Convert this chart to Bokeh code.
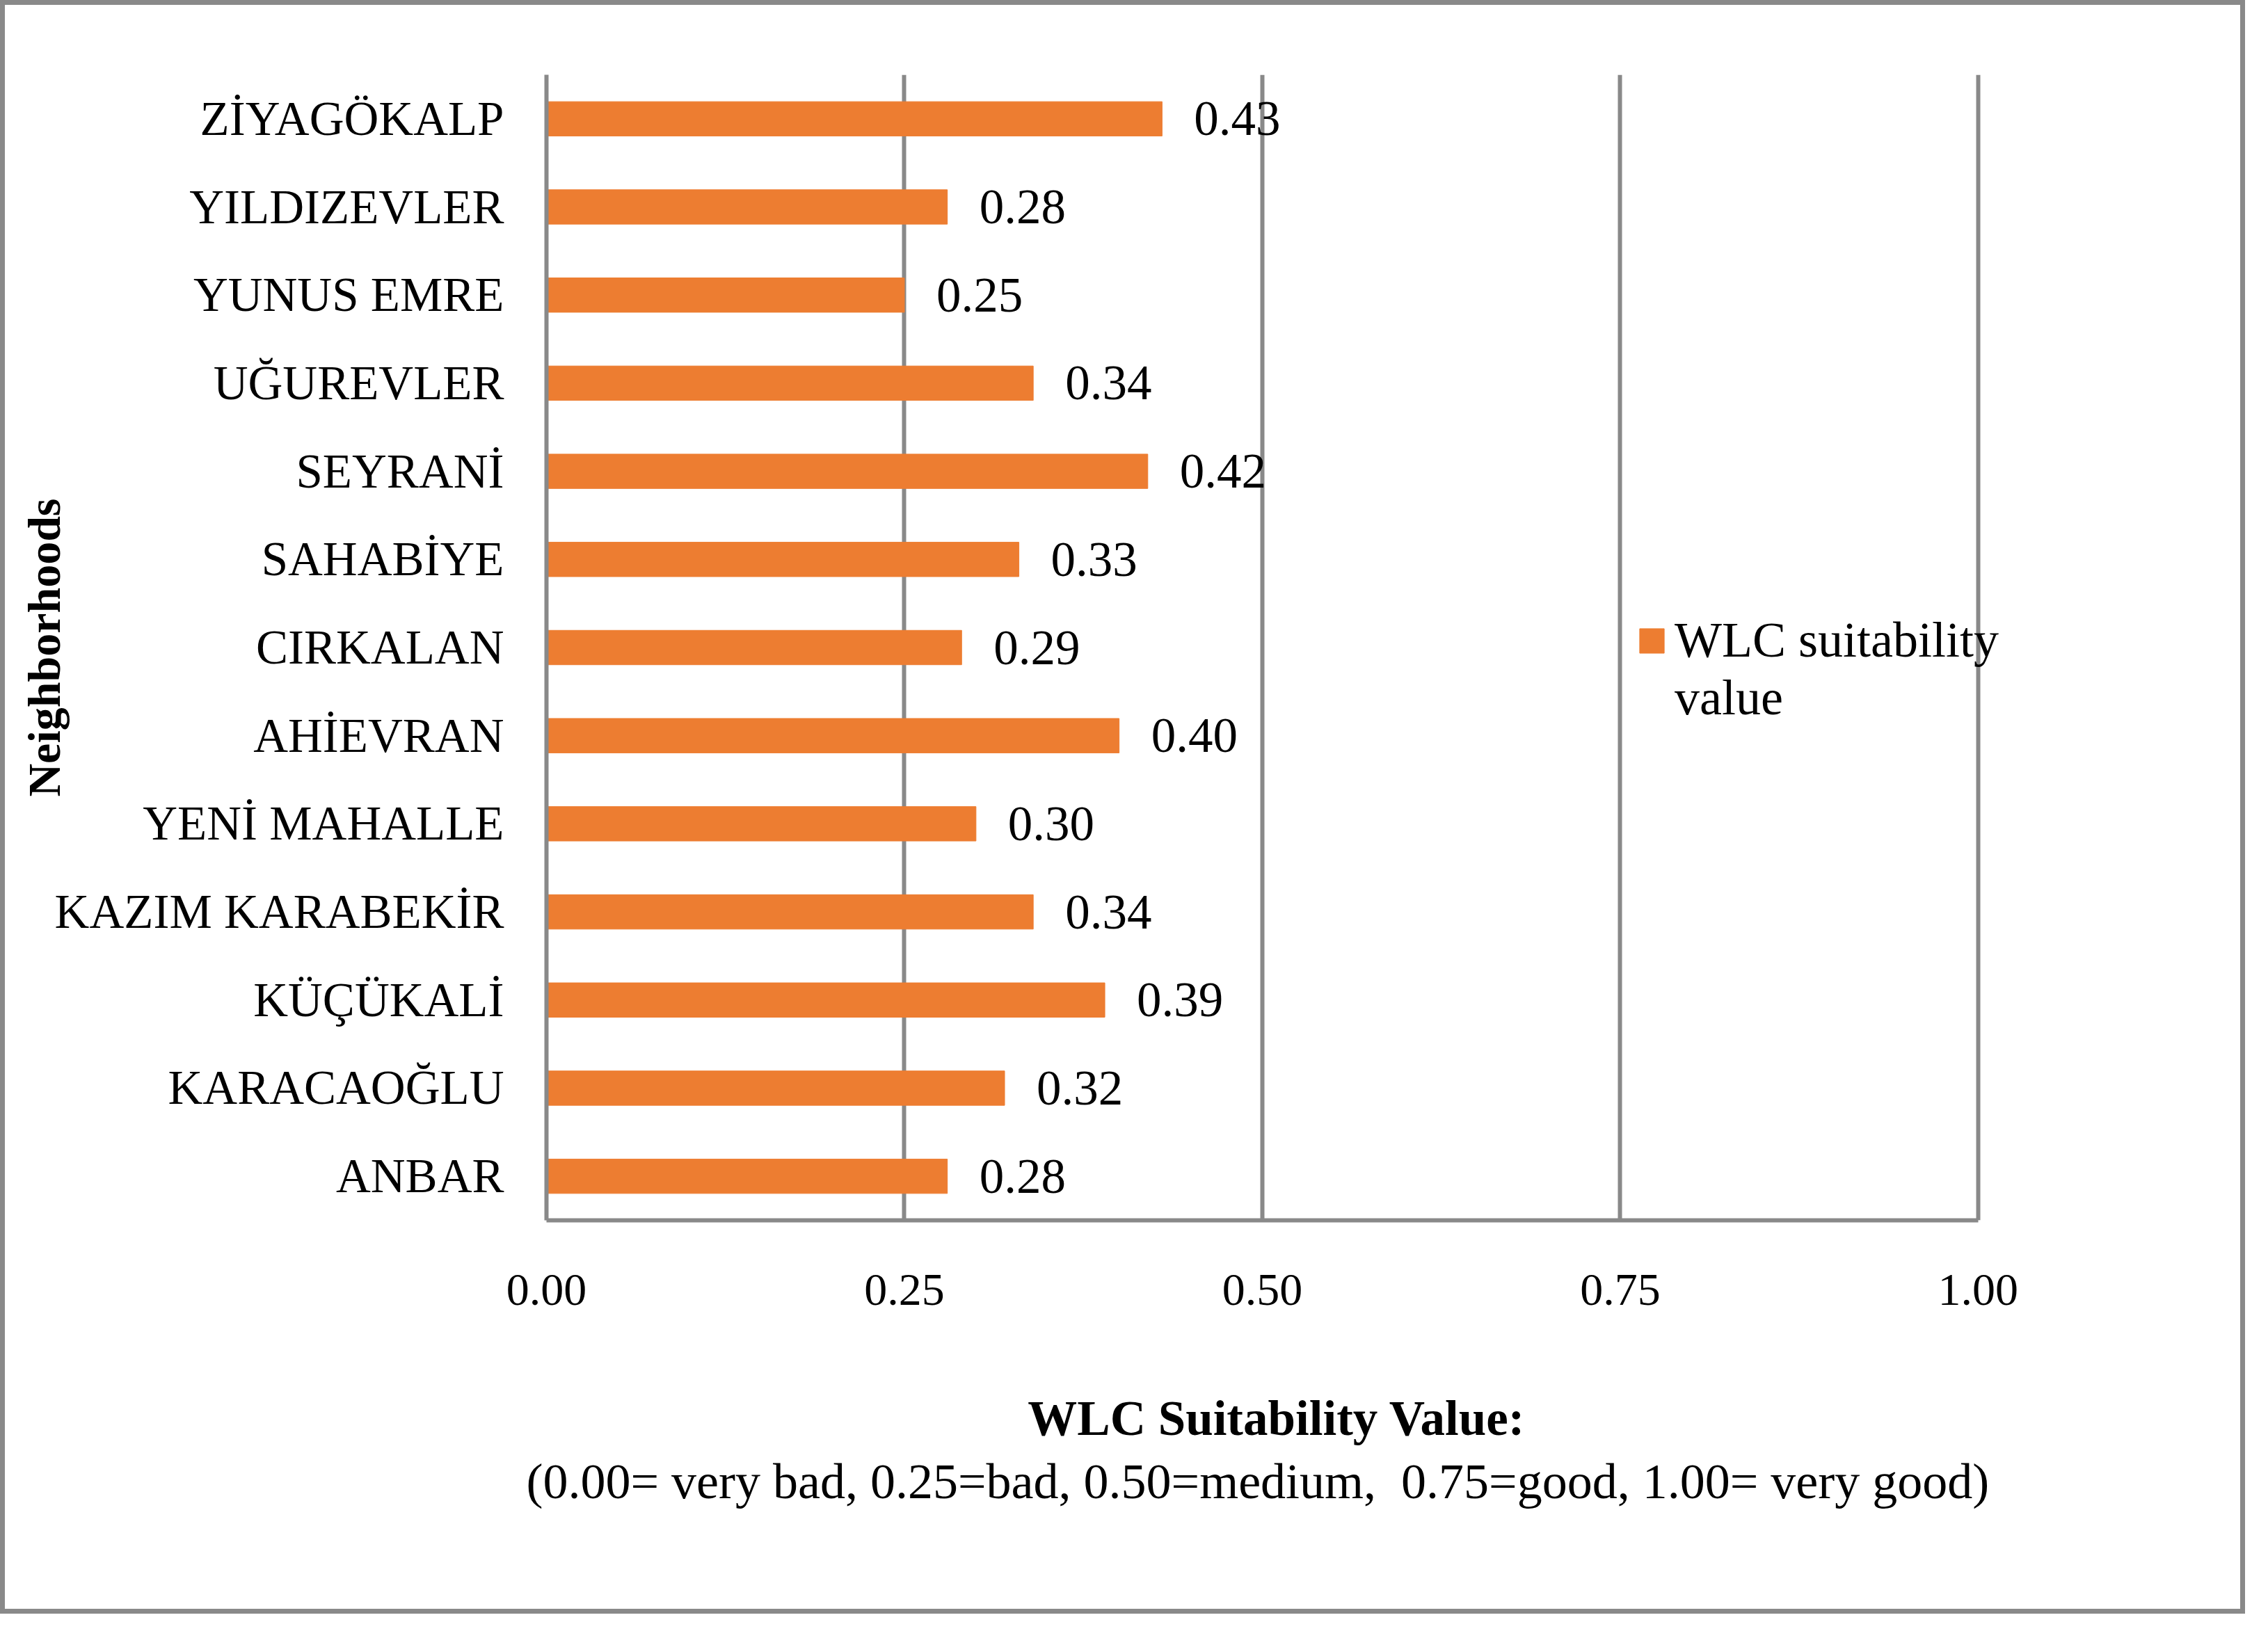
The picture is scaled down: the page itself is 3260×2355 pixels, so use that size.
from bokeh.plotting import figure
from bokeh.models import (Range1d, FactorRange, FixedTicker, NumeralTickFormatter,
                          Legend, LegendItem, ColumnDataSource, Title)
from bokeh.embed import file_html
from bokeh.resources import INLINE
from bokeh.core.properties import value

# ---- data ----
neighborhoods = ["ANBAR", "KARACAOĞLU", "KÜÇÜKALİ", "KAZIM KARABEKİR", "YENİ MAHALLE",
                 "AHİEVRAN", "CIRKALAN", "SAHABİYE", "SEYRANİ", "UĞUREVLER",
                 "YUNUS EMRE", "YILDIZEVLER", "ZİYAGÖKALP"]
wlc_values = [0.28, 0.32, 0.39, 0.34, 0.30, 0.40, 0.29, 0.33, 0.42, 0.34, 0.25, 0.28, 0.43]
x_ticks = [0.0, 0.25, 0.50, 0.75, 1.00]
series_name_lines = ["WLC suitability", "value"]
x_title = "WLC Suitability Value:"
x_subtitle = "(0.00= very bad, 0.25=bad, 0.50=medium,\u00a0 0.75=good, 1.00= very good)"
y_title = "Neighborhoods"

FONT = "Liberation Serif"
GRAY = "#898989"
ORANGE = "#ED7D31"

src = ColumnDataSource(dict(name=neighborhoods, val=wlc_values,
                            lab=[f"{v:.2f}" for v in wlc_values]))

p = figure(width=3227, height=2320,
           y_range=FactorRange(factors=neighborhoods, range_padding=0),
           x_range=Range1d(0, 1.02),
           output_backend="svg", toolbar_location=None,
           min_border_left=778, min_border_right=350,
           min_border_top=100, min_border_bottom=573,
           styles={"border": f"7px solid {GRAY}"})

bars = p.hbar(y="name", right="val", left=0, height=0.39, color=ORANGE, source=src)
p.text(x="val", y="name", text="lab", source=src, x_offset=46,
       text_align="left", text_baseline="middle",
       text_font=value(FONT), text_font_size="71px", text_color="black")

# invisible renderer used only for the wrapped second legend line
blank = p.hbar(y=[neighborhoods[0]], right=[0], left=0, height=0.39,
               fill_alpha=0, line_alpha=0)

# axes
xa = p.xaxis[0]
xa.bounds = (0, 1)
xa.ticker = FixedTicker(ticks=x_ticks)
xa.formatter = NumeralTickFormatter(format="0.00")
xa.major_tick_line_color = None
xa.minor_tick_line_color = None
xa.axis_line_color = GRAY
xa.axis_line_width = 6
xa.major_label_standoff = 72
xa.major_label_text_font = FONT
xa.major_label_text_font_size = "66px"
xa.major_label_text_color = "black"
xa.axis_label = x_title
xa.axis_label_text_font = FONT
xa.axis_label_text_font_size = "71px"
xa.axis_label_text_font_style = "bold"
xa.axis_label_text_color = "black"
xa.axis_label_standoff = 121

ya = p.yaxis[0]
ya.major_tick_line_color = None
ya.minor_tick_line_color = None
ya.axis_line_color = GRAY
ya.axis_line_width = 6
ya.major_label_standoff = 55
ya.major_label_text_font = FONT
ya.major_label_text_font_size = "69px"
ya.major_label_text_color = "black"
ya.axis_label = y_title
ya.axis_label_text_font = FONT
ya.axis_label_text_font_size = "66px"
ya.axis_label_text_font_style = "bold"
ya.axis_label_text_color = "black"
ya.axis_label_standoff = -24

p.xgrid.ticker = FixedTicker(ticks=x_ticks)
p.xgrid.grid_line_color = GRAY
p.xgrid.grid_line_width = 6
p.ygrid.grid_line_color = None
p.outline_line_color = None

# second line of the x-axis title, centred under 0..1
p.add_layout(Title(text=x_subtitle, align="left", offset=-29, text_font=FONT,
                   text_font_size="72px", text_font_style="normal",
                   text_color="black", standoff=15), "below")

legend = Legend(items=[LegendItem(label=series_name_lines[0], renderers=[bars]),
                       LegendItem(label=series_name_lines[1], renderers=[blank])],
                location=(1567, 709), glyph_width=44, glyph_height=44,
                label_text_font=FONT, label_text_font_size="72px",
                label_text_color="black", label_standoff=11, spacing=0,
                padding=0, margin=0, border_line_color=None,
                background_fill_color=None, background_fill_alpha=0)
p.add_layout(legend)

open("out.html", "w").write(file_html(p, INLINE))
